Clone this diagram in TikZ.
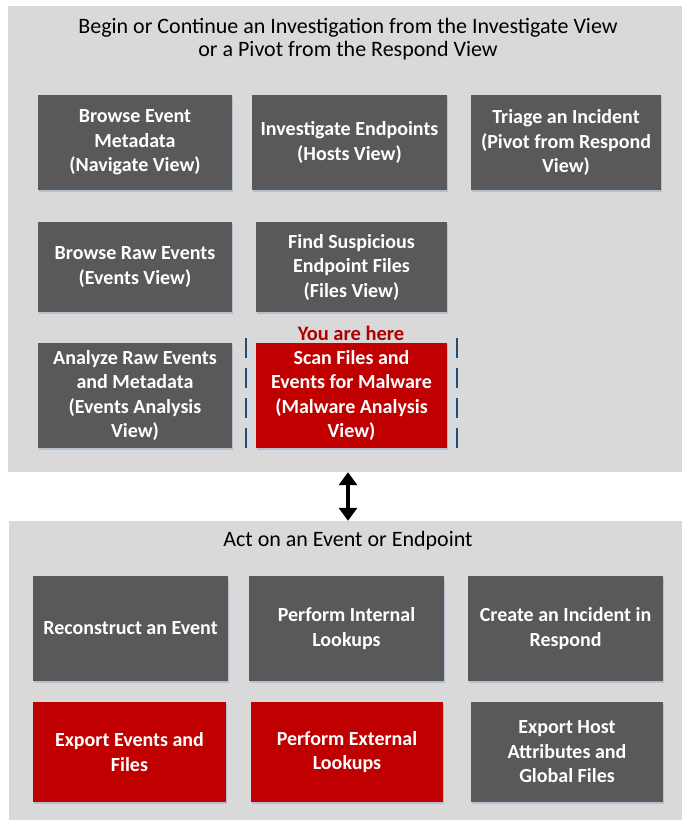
\documentclass[tikz,border=0pt]{standalone}
\usepackage{fontspec}
\setmainfont{Carlito}
\usetikzlibrary{arrows.meta,shadows}
\definecolor{panelgray}{HTML}{D9D9D9}
\definecolor{boxgray}{HTML}{595959}
\definecolor{boxred}{HTML}{C00000}
\definecolor{herered}{HTML}{B00000}
\definecolor{dashblue}{HTML}{1F4E79}
\definecolor{shadowc}{HTML}{9DB0C8}
\begin{document}
\begin{tikzpicture}[x=1pt,y=-1pt,
  panel/.style={fill=panelgray, inner sep=0pt, draw=none},
  boxbase/.style={text=white, font=\bfseries\fontsize{20}{24.5}\selectfont, align=center, inner sep=0pt,
     drop shadow={shadow xshift=0.6pt, shadow yshift=-2pt, fill=shadowc, opacity=0.6}},
  graybox/.style={boxbase, fill=boxgray},
  redbox/.style={boxbase, fill=boxred},
  ptitle/.style={font=\fontsize{22}{23.5}\selectfont, align=center, text=black, inner sep=0pt},
  herelabel/.style={font=\bfseries\fontsize{20.5}{22}\selectfont, text=herered, inner sep=0pt},
  bracket/.style={draw=dashblue, line width=2pt, dash pattern=on 20pt off 10pt},
  dblarrow/.style={line width=3.5pt, {Triangle[width=18pt,length=13pt]}-{Triangle[width=18pt,length=13pt]}}
]
\useasboundingbox (0,0) rectangle (682,824);
\fill[white] (0,0) rectangle (682,824);

% panels
\node[panel, minimum width=674pt, minimum height=466pt] (top) at (345,239) {};
\node[panel, minimum width=673pt, minimum height=299pt] (bottom) at (345.5,670.5) {};

% titles
\node[ptitle] (toptitle) at (348,39) {Begin or Continue an Investigation from the Investigate View\\or a Pivot from the Respond View};
\node[ptitle] (bottitle) at (348,541) {Act on an Event or Endpoint};

% top panel boxes
\node[graybox, minimum width=194pt, minimum height=95pt] (navigate) at (135,142.5) {Browse Event\\Metadata\\(Navigate View)};
\node[graybox, minimum width=195pt, minimum height=95pt] (hosts) at (349.5,142.5) {Investigate Endpoints\\(Hosts View)};
\node[graybox, minimum width=190pt, minimum height=95pt] (triage) at (566,142.5) {Triage an Incident\\(Pivot from Respond\\View)};

\node[graybox, minimum width=194pt, minimum height=90pt] (events) at (135,267) {Browse Raw Events\\(Events View)};
\node[graybox, minimum width=191pt, minimum height=90pt] (files) at (351.5,267) {Find Suspicious\\Endpoint Files\\(Files View)};

\node[graybox, minimum width=194pt, minimum height=105pt] (analysis) at (135,395.5) {Analyze Raw Events\\and Metadata\\(Events Analysis\\View)};
\node[redbox, minimum width=191pt, minimum height=105pt] (malware) at (351.5,395.5) {Scan Files and\\Events for Malware\\(Malware Analysis\\View)};

\node[herelabel, anchor=base] (here) at (351,340) {You are here};

% dashed brackets
\coordinate (lt) at (246,338);
\coordinate (lb) at (246,449);
\coordinate (rt) at (456.5,338);
\coordinate (rb) at (456.5,449);
\draw[bracket] (lt) -- (lb);
\draw[bracket] (rt) -- (rb);

% bottom panel boxes
\node[graybox, minimum width=195pt, minimum height=105pt] (reconstruct) at (130.5,628.5) {Reconstruct an Event};
\node[graybox, minimum width=195pt, minimum height=105pt] (internal) at (346.5,628.5) {Perform Internal\\Lookups};
\node[graybox, minimum width=195pt, minimum height=105pt] (incident) at (565.5,628.5) {Create an Incident in\\Respond};

\node[redbox, minimum width=193pt, minimum height=100pt] (export) at (129.5,752) {Export Events and\\Files};
\node[redbox, minimum width=192pt, minimum height=100pt] (external) at (347,752) {Perform External\\Lookups};
\node[graybox, minimum width=192pt, minimum height=100pt] (hostattr) at (567,752) {Export Host\\Attributes and\\Global Files};

% connector
\draw[dblarrow] ([xshift=3pt]top.south) -- ([xshift=2.5pt]bottom.north);
\end{tikzpicture}
\end{document}
